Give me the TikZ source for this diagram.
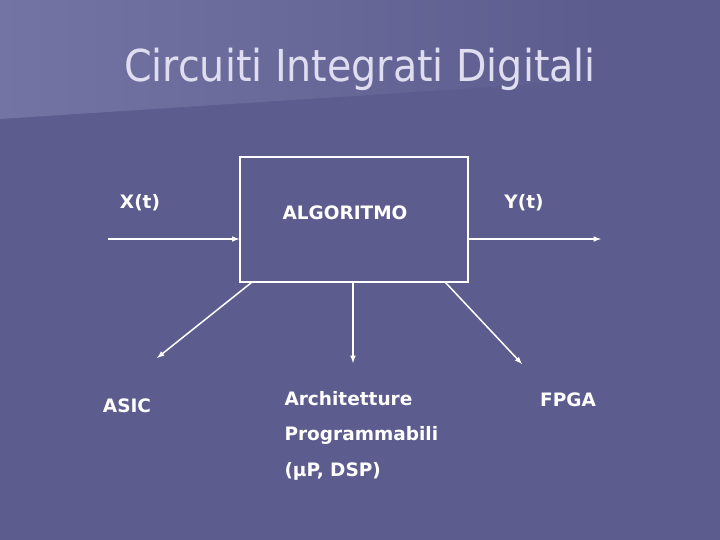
\documentclass[tikz,border=0pt]{standalone}
\usepackage{fontspec}
\setmainfont{DejaVu Sans}
\newfontfamily\titlefont{DejaVu Sans Condensed}
\usetikzlibrary{arrows}
\definecolor{slide}{RGB}{92,92,142}
\definecolor{slidelight}{RGB}{116,116,164}
\definecolor{titletext}{RGB}{222,222,240}
\tikzset{lbl/.style={text=white,font=\bfseries\fontsize{18.5}{22}\selectfont},
         wire/.style={->,white,line width=1.5pt}}

\begin{document}
\begin{tikzpicture}[x=1pt,y=-1pt,>=latex]
            \useasboundingbox (0,0) rectangle (720,540);
            \fill[slide] (0,0) rectangle (720,540);
            \shade[left color=slidelight,right color=slide] (0,0) -- (600,0) -- (600,80) -- (0,119) -- cycle;

            \node[text=titletext,font=\titlefont\fontsize{44}{50}\selectfont] (Title) at (360,69) {Circuiti Integrati Digitali};

            \node[draw=white,line width=1.2pt,minimum width=228pt,minimum height=125pt] (Block) at (354,219.5) {};
            \node[lbl] (Algoritmo) at (345,213) {ALGORITMO};
            \node[lbl] (X) at (140,203) {X(t)};
            \node[lbl] (Y) at (524,203) {Y(t)};
            \node[lbl] (Asic) at (127,406) {ASIC};
            \node[lbl] (Fpga) at (568,400) {FPGA};
            \node[lbl,anchor=west,align=left,font=\bfseries\fontsize{18.5}{35.5}\selectfont] (Archi) at (281,435.5) {Architetture\\Programmabili\\(µP, DSP)};

            \coordinate (XIn) at (108,239);
            \coordinate (YOut) at (601,239);
            \coordinate (AsicEnd) at (157,358);
            \coordinate (ArchiEnd) at (353,363);
            \coordinate (FpgaEnd) at (522,364);

            \draw[wire] (XIn) to (XIn -| Block.west);
            \draw[wire] (YOut -| Block.east) to (YOut);
            \draw[wire] ([xshift=12pt]Block.south west) to (AsicEnd);
            \draw[wire] (ArchiEnd |- Block.south) to (ArchiEnd);
            \draw[wire] ([xshift=-23pt]Block.south east) to (FpgaEnd);

        \end{tikzpicture}
\end{document}
